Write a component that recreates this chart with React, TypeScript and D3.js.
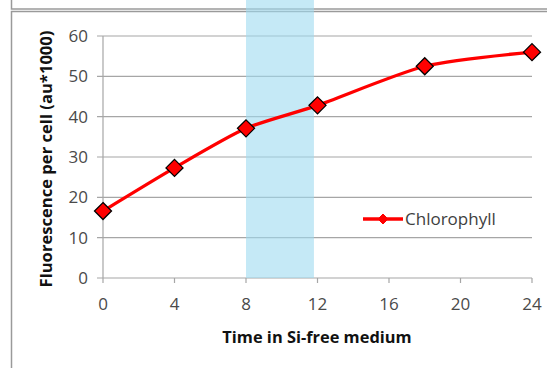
import React from "react";
import * as d3 from "d3";

const hours = [0, 4, 8, 12, 18, 24];
const chlorophyll = [16.6, 27.3, 37.1, 42.8, 52.5, 56.0];
const xTicks = [0, 4, 8, 12, 16, 20, 24];
const yTicks = [0, 10, 20, 30, 40, 50, 60];
const bandRange = [8, 11.8];
const seriesName = "Chlorophyll";
const xTitle = "Time in Si-free medium";
const yTitle = "Fluorescence per cell (au*1000)";

const W = 547;
const H = 368;
const FONT = "'Open Sans', 'Liberation Sans', sans-serif";

export default function App() {
  const x = d3.scaleLinear().domain([0, 24]).range([103, 532]);
  const y = d3.scaleLinear().domain([0, 60]).range([278, 36]);
  const line = d3
    .line<number>()
    .x((_, i) => x(hours[i]))
    .y((d) => y(d))
    .curve(d3.curveCardinal.tension(0.3));
  const diamond = (cx: number, cy: number, r: number) =>
    `M${cx},${cy - r}L${cx + r},${cy}L${cx},${cy + r}L${cx - r},${cy}Z`;
  const legY = 219;
  return (
    <svg
      width={W}
      height={H}
      style={{ position: "absolute", left: 0, top: 0, background: "#fff" }}
    >
      <rect x={0} y={0} width={W} height={H} fill="#fff" />
      {/* frames */}
      <rect x={11.5} y={-20} width={600} height={29} fill="none" stroke="#9a9a9a" strokeWidth={1.5} />
      <rect x={11.5} y={11.5} width={600} height={400} fill="none" stroke="#9a9a9a" strokeWidth={1.5} />
      {/* grid */}
      {yTicks.map((t) => (
        <line key={t} x1={97} x2={x(24)} y1={y(t)} y2={y(t)} stroke="#a6a6a6" strokeWidth={1.2} />
      ))}
      {/* axes */}
      <line x1={x(0)} x2={x(0)} y1={y(60)} y2={y(0)} stroke="#a6a6a6" strokeWidth={1.2} />
      {xTicks.map((t) => (
        <line key={t} x1={x(t)} x2={x(t)} y1={y(0)} y2={y(0) + 5} stroke="#a6a6a6" strokeWidth={1.2} />
      ))}
      {/* band */}
      <rect
        x={x(bandRange[0])}
        y={0}
        width={x(bandRange[1]) - x(bandRange[0])}
        height={y(0)}
        fill="#9edbf0"
        opacity={0.6}
      />
      {/* tick labels */}
      {yTicks.map((t) => (
        <text key={t} x={88} y={y(t)} dy="0.35em" textAnchor="end" fontFamily={FONT} fontSize={17} fill="#4a4a4a">
          {t}
        </text>
      ))}
      {xTicks.map((t) => (
        <text key={t} x={x(t)} y={310} textAnchor="middle" fontFamily={FONT} fontSize={17} fill="#4a4a4a">
          {t}
        </text>
      ))}
      {/* titles */}
      <text x={317} y={343} textAnchor="middle" fontFamily={FONT} fontSize={16.4} fontWeight="bold" fill="#111">
        {xTitle}
      </text>
      <text
        transform={`translate(52,${159}) rotate(-90)`}
        textAnchor="middle"
        fontFamily={FONT}
        fontSize={16.6}
        fontWeight="bold"
        fill="#111"
      >
        {yTitle}
      </text>
      {/* series */}
      <path d={line(chlorophyll) || ""} fill="none" stroke="#ff0000" strokeWidth={3.3} />
      {chlorophyll.map((v, i) => (
        <path key={i} d={diamond(x(hours[i]), y(v), 8.5)} fill="#ff0000" stroke="#000" strokeWidth={1.3} />
      ))}
      {/* legend */}
      <line x1={363} x2={403} y1={legY} y2={legY} stroke="#ff0000" strokeWidth={3.3} />
      <path d={diamond(383, legY, 5)} fill="#ff0000" stroke="#ff0000" strokeWidth={1} />
      <text x={405} y={legY} dy="0.35em" fontFamily={FONT} fontSize={17} fill="#404040">
        {seriesName}
      </text>
    </svg>
  );
}
